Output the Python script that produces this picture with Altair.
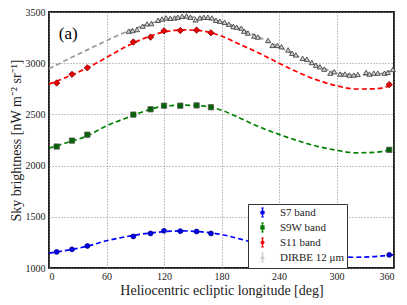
import altair as alt
import pandas as pd

# ---- data ----
BANDS = ["S7 band", "S9W band", "S11 band", "DIRBE 12 μm"]

PT_LON = [8, 24, 40, 88, 106, 120, 137, 154, 169, 355]
S7 = [1157, 1182, 1215, 1308, 1337, 1363, 1360, 1356, 1337, 1128]
S9W = [2186, 2244, 2302, 2498, 2550, 2585, 2585, 2588, 2570, 2154]
S11 = [2807, 2891, 2955, 3207, 3255, 3316, 3319, 3323, 3297, 2791]

DIRBE_LON = [83.1, 87.3, 91.8, 97.7, 102.3, 106.8, 113.8, 118, 122.2, 126.7, 130.9, 134.4,
             138.9, 143.5, 147.6, 152.9, 157.4, 161.6, 165.8, 170, 174.2, 178.4, 183.2,
             187.7, 192.4, 195.8, 200.7, 203.5, 207.6, 214, 218, 228.6, 233.2, 238.4,
             242.6, 249.5, 253.7, 257.6, 264.6, 269.1, 274.3, 278.5, 282.7, 287.2, 293.5,
             297.7, 303.7, 308.9, 313.4, 318, 322.2, 330.9, 334.4, 338.9, 343.1, 350.1,
             353.6, 358.8]
DIRBE = [3313, 3319, 3329, 3362, 3384, 3387, 3419, 3432, 3442, 3439, 3442, 3449,
         3458, 3461, 3449, 3423, 3442, 3449, 3449, 3442, 3419, 3410, 3400,
         3381, 3358, 3352, 3342, 3313, 3294, 3265, 3255, 3222, 3174, 3174,
         3161, 3130, 3097, 3081, 3048, 3039, 3007, 2981, 2965, 2942, 2903,
         2917, 2894, 2894, 2884, 2884, 2891, 2910, 2894, 2903, 2903, 2903,
         2910, 2939]

FIT_LON = [0, 20, 40, 60, 80, 100, 120, 140, 160, 180, 200, 220, 240, 260, 280, 300, 320, 340, 360]
S7_FIT = [1145, 1175, 1213, 1266, 1305, 1335, 1355, 1362, 1352, 1327, 1282, 1230, 1185, 1150, 1125, 1110, 1105, 1112, 1130]
S9W_FIT = [2170, 2228, 2290, 2389, 2462, 2532, 2580, 2590, 2583, 2541, 2460, 2376, 2305, 2242, 2188, 2150, 2125, 2130, 2165]
S11_FIT = [2795, 2870, 2955, 3055, 3160, 3245, 3305, 3325, 3315, 3265, 3180, 3095, 3000, 2910, 2835, 2780, 2748, 2750, 2792]
DIRBE_FIT = [2945, 3040, 3130, 3220, 3305, 3372, 3425, 3452, 3445, 3405, 3335, 3250, 3160, 3065, 2975, 2910, 2885, 2890, 2935]

LINE_COLORS = ["#0000ff", "#008000", "#ff0000", "#999999"]
FILL_COLORS = ["#0000ee", "#006400", "#ee0000", "#d0d0d0"]
EDGE_COLORS = ["#00007a", "#555555", "#700000", "#333333"]
LEG_STROKE = ["#0000ee", "#008000", "#ee0000", "#cccccc"]
SHAPES = ["circle", "square", "diamond", "triangle-up"]
BAR = "M0,-1V1M-0.3,-1H0.3M-0.3,1H0.3"
LEG_SHAPES = [
    BAR + "M0.38,0A0.38,0.38,0,1,1,-0.38,0A0.38,0.38,0,1,1,0.38,0Z",
    BAR + "M-0.34,-0.34H0.34V0.34H-0.34Z",
    BAR + "M0,-0.45L0.34,0L0,0.45L-0.34,0Z",
    BAR + "M0,-0.36L0.34,0.28H-0.34Z",
]
SIZES = [24, 28, 40, 26]

FONT = "Liberation Serif"

# ---- tables ----
fit_frames = []
for name, vals in zip(BANDS, [S7_FIT, S9W_FIT, S11_FIT, DIRBE_FIT]):
    fit_frames.append(pd.DataFrame({"lon": FIT_LON, "val": vals, "band": name}))
fits = pd.concat(fit_frames, ignore_index=True)

pt_frames = []
for name, lons, vals in zip(BANDS, [PT_LON, PT_LON, PT_LON, DIRBE_LON], [S7, S9W, S11, DIRBE]):
    pt_frames.append(pd.DataFrame({"lon": lons, "val": vals, "band": name}))
pts = pd.concat(pt_frames, ignore_index=True)

xsc = alt.Scale(domain=[0, 360], nice=False, zero=False)
ysc = alt.Scale(domain=[1000, 3500], nice=False, zero=False)
X = alt.X("lon:Q", scale=xsc,
          axis=alt.Axis(values=[0, 60, 120, 180, 240, 300, 360], format="d",
                        title="Heliocentric ecliptic longitude [deg]"))
Y = alt.Y("val:Q", scale=ysc,
          axis=alt.Axis(values=[1000, 1500, 2000, 2500, 3000, 3500], format="d",
                        title="Sky brightness [nW m⁻² sr⁻¹]"))

layers = []
for i, name in enumerate(BANDS):
    layers.append(
        alt.Chart(fits[fits.band == name]).mark_line(
            color=LINE_COLORS[i], strokeDash=[5, 3], strokeWidth=1.7, interpolate="monotone"
        ).encode(x=X, y=Y)
    )
for i in [3, 0, 1, 2]:
    name = BANDS[i]
    layers.append(
        alt.Chart(pts[pts.band == name]).mark_point(
            shape=SHAPES[i], filled=True, fill=FILL_COLORS[i], stroke=EDGE_COLORS[i],
            strokeWidth=0.8, size=SIZES[i], opacity=1
        ).encode(x=X, y=Y)
    )

# legend layer (invisible marks, visible legend symbols)
leg = alt.Chart(pts).mark_point(filled=True, opacity=0, size=1).encode(
    x=X, y=Y,
    fill=alt.Fill("band:N", scale=alt.Scale(domain=BANDS, range=FILL_COLORS),
                  legend=alt.Legend(title=None)),
    stroke=alt.Stroke("band:N", scale=alt.Scale(domain=BANDS, range=LEG_STROKE),
                      legend=alt.Legend(title=None)),
    shape=alt.Shape("band:N", scale=alt.Scale(domain=BANDS, range=LEG_SHAPES),
                    legend=alt.Legend(title=None)),
)
layers.append(leg)

label = alt.Chart(pd.DataFrame({"lon": [20], "val": [3290], "t": ["(a)"]})).mark_text(
    font=FONT, fontSize=17, color="black"
).encode(x=X, y=Y, text="t:N")
layers.append(label)

chart = alt.layer(*layers).properties(
    width=345, height=256,
    autosize=alt.AutoSizeParams(type="none"),
    padding={"left": 41, "top": 4, "right": 5, "bottom": 30},
).configure_view(
    stroke="#222222", strokeWidth=2
).configure_axis(
    grid=True, gridColor="#888888", gridDash=[1, 2], gridWidth=1,
    domain=False, ticks=False,
    labelFont=FONT, labelFontSize=10, labelColor="#222",
    titleFont=FONT, titleFontSize=14, titleFontWeight="normal", titleColor="#222",
).configure_axisX(
    labelPadding=3, titlePadding=2
).configure_axisY(
    labelPadding=4, titlePadding=2
).configure_legend(
    orient="none", legendX=199, legendY=192,
    fillColor="white", strokeColor="#333333", strokeWidth=1,
    padding=3, cornerRadius=0,
    labelFont=FONT, labelFontSize=11, labelColor="#222",
    symbolSize=81, symbolStrokeWidth=1.2, symbolOpacity=1,
    rowPadding=0, labelOffset=12, symbolOffset=6
)

chart.save("out.html", embed_options={"renderer": "svg", "actions": False})
